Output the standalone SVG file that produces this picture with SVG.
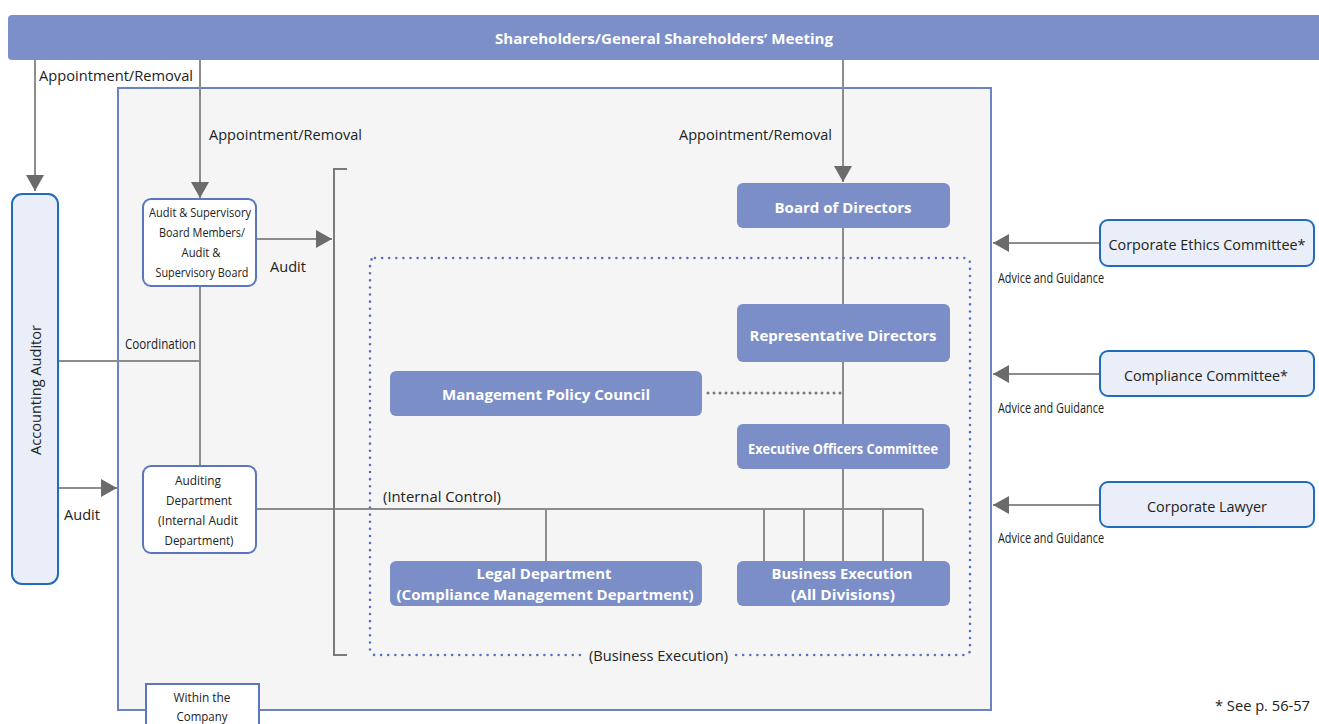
<svg xmlns="http://www.w3.org/2000/svg" width="1319" height="724" viewBox="0 0 1319 724">
<style>
text{font-family:"Open Sans","Liberation Sans",sans-serif;fill:#222;dominant-baseline:central}
.w{fill:#fff;font-weight:700;font-size:15px}
.m{text-anchor:middle}
.n{font-size:15px}
.c{font-size:14px}
.s{font-size:13px}
.box{fill:#7b8ec7}
.wb{fill:#fff;stroke:#5b75c1;stroke-width:2}
.lb{fill:#eaeef8;stroke:#1f6cbf;stroke-width:2}
.ln{stroke:#8c8c8c;stroke-width:2;fill:none}
.ar{stroke:#8c8c8c;stroke-width:2;fill:none;marker-end:url(#ah)}
</style>
<defs>
<marker id="ah" viewBox="0 0 16 18" refX="16" refY="9" markerWidth="16" markerHeight="18" markerUnits="userSpaceOnUse" orient="auto">
<path d="M0,0 L16,9 L0,18 Z" fill="#6b6b6b"/>
</marker>
</defs>

<g id="main-frame">
<rect x="118" y="88" width="873" height="622" fill="#f4f5f4" stroke="#6a83c5" stroke-width="2"/>
</g>

<g id="connectors">
<path class="ar" d="M35,60 V191"/>
<path class="ar" d="M200,60 V198"/>
<path class="ar" d="M843,60 V182"/>
<path class="ar" d="M256,239 H332"/>
<path class="ar" d="M58,488 H117"/>
<path class="ln" d="M58,361 H200"/>
<path class="ln" d="M200,286 V466"/>
<path class="ln" d="M843,228 V561"/>
<path class="ln" d="M256,509 H923"/>
<path class="ln" d="M546,509 V561 M764,509 V561 M804,509 V561 M883,509 V561 M923,509 V561"/>
<path d="M347,169 H334 V655 H347" fill="none" stroke="#7a7a7a" stroke-width="2"/>
<path d="M708,393 H843" fill="none" stroke="#7a7a7a" stroke-width="3" stroke-linecap="round" stroke-dasharray="0 6"/>
<path class="ar" d="M1100,243 H993"/>
<path class="ar" d="M1100,374 H993"/>
<path class="ar" d="M1100,505 H993"/>
<rect x="370" y="258" width="600" height="397" rx="5" fill="none" stroke="#5670c4" stroke-width="2.6" stroke-linecap="round" stroke-dasharray="0 7.1"/>
<rect x="585" y="646" width="147" height="18" fill="#f4f5f4"/>
</g>

<g id="labels">
<text class="n" x="39" y="75" textLength="154" lengthAdjust="spacingAndGlyphs">Appointment/Removal</text>
<text class="n" x="209" y="134" textLength="153" lengthAdjust="spacingAndGlyphs">Appointment/Removal</text>
<text class="n" x="679" y="134" textLength="153" lengthAdjust="spacingAndGlyphs">Appointment/Removal</text>
<text class="n" x="270" y="266" textLength="36" lengthAdjust="spacingAndGlyphs">Audit</text>
<text class="c" x="125" y="343" textLength="71" lengthAdjust="spacingAndGlyphs">Coordination</text>
<text class="n" x="64" y="514" textLength="36" lengthAdjust="spacingAndGlyphs">Audit</text>
<text class="n" x="383" y="496" textLength="118" lengthAdjust="spacingAndGlyphs">(Internal Control)</text>
<text class="n" x="589" y="655" textLength="139" lengthAdjust="spacingAndGlyphs">(Business Execution)</text>
<text class="c" x="998" y="277" textLength="106" lengthAdjust="spacingAndGlyphs">Advice and Guidance</text>
<text class="c" x="998" y="407" textLength="106" lengthAdjust="spacingAndGlyphs">Advice and Guidance</text>
<text class="c" x="998" y="537" textLength="106" lengthAdjust="spacingAndGlyphs">Advice and Guidance</text>
<text class="n" x="1215" y="705" textLength="95" lengthAdjust="spacingAndGlyphs">* See p. 56-57</text>
</g>

<g id="shareholders">
<rect x="8" y="15" width="1330" height="45" rx="4" fill="#7d8fc8"/>
<text class="w m" x="664" y="38" textLength="338" lengthAdjust="spacingAndGlyphs">Shareholders/General Shareholders’ Meeting</text>
</g>

<g id="accounting-auditor">
<rect class="lb" x="12" y="194" width="46" height="390" rx="10"/>
<text class="n m" x="35" y="390" transform="rotate(-90 35 390)" textLength="130" lengthAdjust="spacingAndGlyphs">Accounting Auditor</text>
</g>

<g id="audit-supervisory-board">
<rect class="wb" x="143" y="199" width="113" height="87" rx="8"/>
<text class="s m" x="200" y="212" textLength="102" lengthAdjust="spacingAndGlyphs">Audit &amp; Supervisory</text>
<text class="s m" x="202" y="232" textLength="86" lengthAdjust="spacingAndGlyphs">Board Members/</text>
<text class="s m" x="201" y="252" textLength="39" lengthAdjust="spacingAndGlyphs">Audit &amp;</text>
<text class="s m" x="202" y="272" textLength="93" lengthAdjust="spacingAndGlyphs">Supervisory Board</text>
</g>

<g id="auditing-department">
<rect class="wb" x="143" y="466" width="113" height="87" rx="8"/>
<text class="s m" x="198" y="480" textLength="46" lengthAdjust="spacingAndGlyphs">Auditing</text>
<text class="s m" x="199" y="500" textLength="66" lengthAdjust="spacingAndGlyphs">Department</text>
<text class="s m" x="198" y="520" textLength="80" lengthAdjust="spacingAndGlyphs">(Internal Audit</text>
<text class="s m" x="199" y="540" textLength="69" lengthAdjust="spacingAndGlyphs">Department)</text>
</g>

<g id="board-of-directors">
<rect class="box" x="737" y="183" width="213" height="45" rx="6"/>
<text class="w m" x="843" y="207" textLength="137" lengthAdjust="spacingAndGlyphs">Board of Directors</text>
</g>

<g id="representative-directors">
<rect class="box" x="737" y="304" width="213" height="58" rx="6"/>
<text class="w m" x="843" y="335" textLength="187" lengthAdjust="spacingAndGlyphs">Representative Directors</text>
</g>

<g id="management-policy-council">
<rect class="box" x="390" y="371" width="312" height="45" rx="6"/>
<text class="w m" x="546" y="394" textLength="208" lengthAdjust="spacingAndGlyphs">Management Policy Council</text>
</g>

<g id="executive-officers-committee">
<rect class="box" x="737" y="424" width="213" height="45" rx="6"/>
<text class="w m" x="843" y="448" textLength="190" lengthAdjust="spacingAndGlyphs">Executive Officers Committee</text>
</g>

<g id="legal-department">
<rect class="box" x="390" y="561" width="312" height="45" rx="6"/>
<text class="w m" x="544" y="573" textLength="135" lengthAdjust="spacingAndGlyphs">Legal Department</text>
<text class="w m" x="545" y="594" textLength="297" lengthAdjust="spacingAndGlyphs">(Compliance Management Department)</text>
</g>

<g id="business-execution">
<rect class="box" x="737" y="561" width="213" height="45" rx="6"/>
<text class="w m" x="842" y="573" textLength="141" lengthAdjust="spacingAndGlyphs">Business Execution</text>
<text class="w m" x="843" y="594" textLength="104" lengthAdjust="spacingAndGlyphs">(All Divisions)</text>
</g>

<g id="corporate-ethics-committee">
<rect class="lb" x="1100" y="220" width="214" height="46" rx="8"/>
<text class="n m" x="1207" y="244" textLength="197" lengthAdjust="spacingAndGlyphs">Corporate Ethics Committee*</text>
</g>

<g id="compliance-committee">
<rect class="lb" x="1100" y="351" width="214" height="45" rx="8"/>
<text class="n m" x="1206" y="375" textLength="164" lengthAdjust="spacingAndGlyphs">Compliance Committee*</text>
</g>

<g id="corporate-lawyer">
<rect class="lb" x="1100" y="482" width="214" height="45" rx="8"/>
<text class="n m" x="1207" y="506" textLength="120" lengthAdjust="spacingAndGlyphs">Corporate Lawyer</text>
</g>

<g id="within-the-company">
<rect x="146" y="684" width="113" height="50" fill="#fff" stroke="#5b75c1" stroke-width="2"/>
<text class="s m" x="202" y="697" textLength="57" lengthAdjust="spacingAndGlyphs">Within the</text>
<text class="s m" x="202" y="716" textLength="51" lengthAdjust="spacingAndGlyphs">Company</text>
</g>
</svg>
